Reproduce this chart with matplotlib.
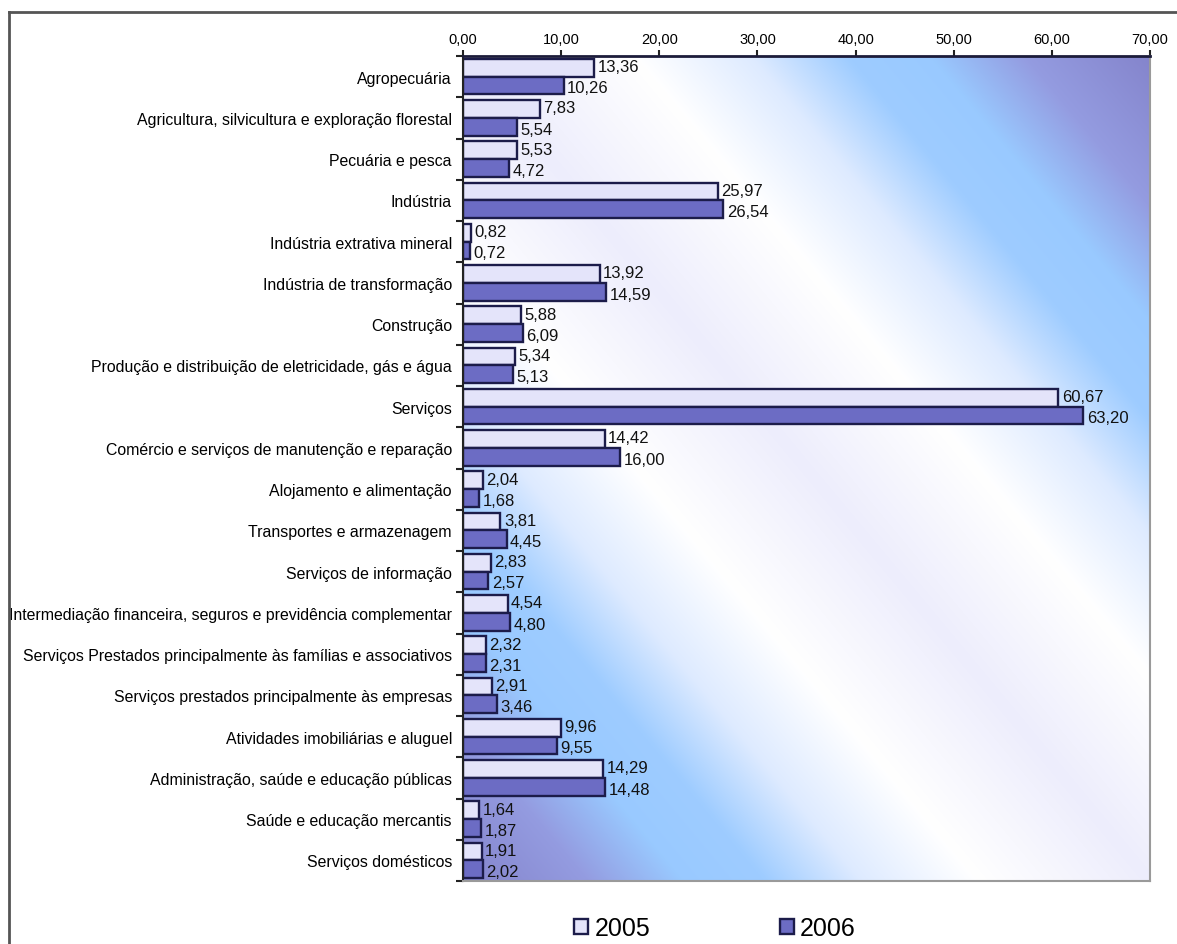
import numpy as np
import matplotlib
matplotlib.use("Agg")
import matplotlib.pyplot as plt
from matplotlib.lines import Line2D

# categories (top to bottom) and values in %
categorias = [
    "Agropecuária",
    "Agricultura, silvicultura e exploração florestal",
    "Pecuária e pesca",
    "Indústria",
    "Indústria extrativa mineral",
    "Indústria de transformação",
    "Construção",
    "Produção e distribuição de eletricidade, gás e água",
    "Serviços",
    "Comércio e serviços de manutenção e reparação",
    "Alojamento e alimentação",
    "Transportes e armazenagem",
    "Serviços de informação",
    "Intermediação financeira, seguros e previdência complementar",
    "Serviços Prestados principalmente às famílias e associativos",
    "Serviços prestados principalmente às empresas",
    "Atividades imobiliárias e aluguel",
    "Administração, saúde e educação públicas",
    "Saúde e educação mercantis",
    "Serviços domésticos",
]
valores_2005 = [13.36, 7.83, 5.53, 25.97, 0.82, 13.92, 5.88, 5.34, 60.67, 14.42,
                2.04, 3.81, 2.83, 4.54, 2.32, 2.91, 9.96, 14.29, 1.64, 1.91]
valores_2006 = [10.26, 5.54, 4.72, 26.54, 0.72, 14.59, 6.09, 5.13, 63.20, 16.00,
                1.68, 4.45, 2.57, 4.80, 2.31, 3.46, 9.55, 14.48, 1.87, 2.02]
x_ticks = [0, 10, 20, 30, 40, 50, 60, 70]
series = ["2005", "2006"]

fonte = ["Liberation Sans", "DejaVu Sans"]


def virgula(v):
    return "{:.2f}".format(v).replace(".", ",")


fig = plt.figure(figsize=(11.77, 9.45), dpi=100)
ax = fig.add_axes([463/1177, 63/945, 687/1177, 825/945])

# diagonal background: light along the main diagonal, blue then purple to the corners
n = 400
u, w = np.meshgrid(np.linspace(0, 1, n), np.linspace(0, 1, n))
t = np.abs(u - w)
stops = [0.0, 0.25, 0.42, 0.56, 0.68, 0.82, 1.0]
r = [0.93, 1.00, 0.87, 0.62, 0.60, 0.58, 0.52]
g = [0.93, 1.00, 0.92, 0.80, 0.79, 0.61, 0.52]
b = [0.99, 1.00, 1.00, 1.00, 1.00, 0.88, 0.80]
img = np.dstack([np.interp(t, stops, r), np.interp(t, stops, g), np.interp(t, stops, b)])
ax.imshow(img, extent=[0, 1, 0, 1], transform=ax.transAxes, aspect="auto",
          origin="upper", zorder=0, interpolation="bilinear")

y = np.arange(len(categorias))
h = 0.43
b05 = ax.barh(y - h/2, valores_2005, height=h, color="#e4e4fa", edgecolor="#1c1c4a",
              linewidth=1.7, label=series[0], zorder=2)
b06 = ax.barh(y + h/2, valores_2006, height=h, color="#6c6cc4", edgecolor="#1c1c4a",
              linewidth=1.7, label=series[1], zorder=2)

for yi, v in zip(y, valores_2005):
    ax.text(v + 0.35, yi - h/2 - 0.03, virgula(v), va="center", ha="left",
            fontsize=12, family=fonte, color="#111111", zorder=3)
for yi, v in zip(y, valores_2006):
    ax.text(v + 0.35, yi + h/2 + 0.06, virgula(v), va="center", ha="left",
            fontsize=12, family=fonte, color="#111111", zorder=3)

ax.set_xlim(0, 70)
ax.set_ylim(len(categorias) - 0.5, -0.5)

ax.xaxis.tick_top()
ax.set_xticks(x_ticks)
ax.set_xticklabels([virgula(v) for v in x_ticks], family=fonte, fontsize=10.5)
ax.tick_params(axis="x", direction="out", length=4, width=1.5, pad=3, color="#222222")

ax.set_yticks(y)
ax.set_yticklabels(categorias, family=fonte, fontsize=11.4)
ax.set_yticks(np.arange(len(categorias) + 1) - 0.5, minor=True)
ax.tick_params(axis="y", which="major", length=0, pad=8)
ax.tick_params(axis="y", which="minor", direction="out", length=5, width=1.5, color="#222222")

ax.spines["top"].set_linewidth(2)
ax.spines["top"].set_color("#1c1c3a")
ax.spines["left"].set_linewidth(1.5)
ax.spines["left"].set_color("#222222")
ax.spines["right"].set_color("#9a9a9a")
ax.spines["bottom"].set_color("#9a9a9a")
ax.spines["right"].set_linewidth(1.5)
ax.spines["bottom"].set_linewidth(1.5)

fig.legend(handles=[b05, b06], labels=series, loc="center",
           bbox_to_anchor=(715/1177, 1 - 929/945), ncol=2, frameon=False,
           prop={"family": fonte, "size": 18}, handlelength=0.55, handleheight=0.55,
           handletextpad=0.25, columnspacing=5.2)

# outer frame of the original picture
fig.add_artist(Line2D([8.5/1177, 8.5/1177], [0, 1 - 13/945], transform=fig.transFigure,
                      color="#555555", linewidth=2))
fig.add_artist(Line2D([8.5/1177, 1], [1 - 13/945, 1 - 13/945], transform=fig.transFigure,
                      color="#555555", linewidth=2))

fig.savefig("out.png", dpi=100)
